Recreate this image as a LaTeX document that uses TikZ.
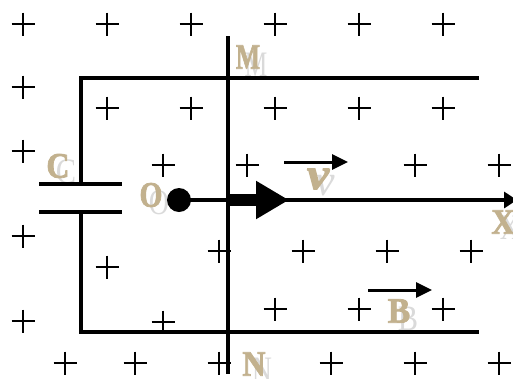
\documentclass[tikz,border=0pt]{standalone}
\usepackage{fontspec}
\setmainfont{Liberation Serif}
\newfontfamily\labfat[FakeBold=2.2]{Liberation Serif Bold}
\newfontfamily\labfatit[FakeBold=2.2]{Liberation Serif Bold Italic}
\usetikzlibrary{arrows.meta}
\definecolor{tanlabel}{HTML}{C2B18E}
\definecolor{ghostlabel}{HTML}{DADADA}
\tikzset{
  plusline/.style={line width=1.7pt,black},
  plusmark/.pic={\draw[plusline] (-11.5,0)--(11.5,0) (0,-11.5)--(0,11.5);},
  wire/.style={line width=4pt,black,line cap=butt,line join=miter},
  tanlab/.style={text=tanlabel,font=\fontsize{32}{32}\selectfont\labfat,inner sep=0pt,transform shape,yscale=1.12},
  tanital/.style={text=tanlabel,font=\fontsize{40}{40}\selectfont\labfatit,inner sep=0pt,transform shape,xscale=1.25,yscale=1.1},
  ghostlab/.style={text=ghostlabel,font=\fontsize{32}{32}\selectfont,inner sep=0pt,transform shape,yscale=1.12},
  ghostital/.style={text=ghostlabel,font=\fontsize{40}{40}\selectfont\itshape,inner sep=0pt,transform shape,xscale=1.1,yscale=1.1},
  smallarrow/.style={line width=3pt,black,-{Triangle[length=16pt,width=15pt]}},
}
\begin{document}
\begin{tikzpicture}[x=1pt,y=-1pt]
\useasboundingbox (0,0) rectangle (513,378);
% field of plus marks
\foreach \px/\py in {23/24,107/24,191/24,275/24,359/24,443/24,
  23/87,
  107/108,191/108,275/108,359/108,443/108,
  23/151,
  163/165,247/165,415/165,499/165,
  23/236,
  219/251,303/251,387/251,471/251,
  107/267,
  275/309,359/309,443/309,
  23/321,163/322,
  65/363,135/363,219/363,331/363,415/363,499/363}
  \pic at (\px,\py) {plusmark};
% coordinates
\coordinate (topL) at (80.5,78);
\coordinate (topR) at (479,78);
\coordinate (botL) at (80.5,332);
\coordinate (botR) at (479,332);
\coordinate (rodT) at (227.5,36);
\coordinate (rodB) at (227.5,374);
\coordinate (capTL) at (39,184);
\coordinate (capTR) at (122,184);
\coordinate (capTM) at (80.5,184);
\coordinate (capBL) at (39,212);
\coordinate (capBR) at (122,212);
\coordinate (capBM) at (80.5,212);
\coordinate (xEnd) at (517,200);
\coordinate (barS) at (227.5,200);
\coordinate (barE) at (289,200);
\coordinate (vS) at (284,162);
\coordinate (vE) at (348,162);
\coordinate (bS) at (368,290);
\coordinate (bE) at (432,290);
% ghost labels
\node[ghostlab,xscale=0.8] (gM) at (256,65) {M};
\node[ghostlab,xscale=0.95] (gC) at (66,172) {C};
\node[ghostlab,xscale=0.87] (gO) at (159,203) {O};
\node[ghostital] (gv) at (325,186) {v};
\node[ghostlab,xscale=0.87] (gX) at (510,228) {X};
\node[ghostlab,xscale=0.95] (gB) at (408,319) {B};
\node[ghostlab,xscale=0.87] (gN) at (262,370) {N};
% wires
\draw[wire] (capTM) -- (topL) -- (topR);
\draw[wire] (capBM) -- (botL) -- (botR);
\draw[wire] (capTL) -- (capTR);
\draw[wire] (capBL) -- (capBR);
\draw[wire] (rodT) -- (rodB);
% dot and moving rod arrow
\node[circle,fill=black,minimum size=24pt,inner sep=0pt] (dot) at (179,200) {};
\draw[wire,-{Triangle[length=13pt,width=16pt]}] (dot.center) -- (xEnd);
\draw[line width=12pt,black,-{Triangle[length=33pt,width=36pt]}] (barS) -- (barE);
\draw[smallarrow] (vS) -- (vE);
\draw[smallarrow] (bS) -- (bE);
% tan labels
\node[tanlab,xscale=0.8] (M) at (248,57) {M};
\node[tanlab] (C) at (58,166) {C};
\node[tanlab,xscale=0.92] (O) at (151,195) {O};
\node[tanital] (v) at (318,179) {v};
\node[tanlab] (X) at (503,222) {X};
\node[tanlab,xscale=1.05] (B) at (399,311) {B};
\node[tanlab] (N) at (254,364) {N};
\end{tikzpicture}
\end{document}
